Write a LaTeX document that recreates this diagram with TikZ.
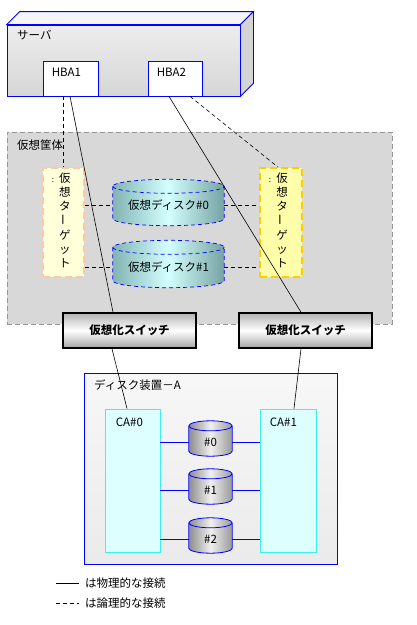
\documentclass[tikz,border=0pt]{standalone}
\usepackage{fontspec}
\setmainfont{Noto Sans CJK JP}
\usepackage{graphicx}
\usetikzlibrary{positioning,calc}
\definecolor{boxblue}{RGB}{0,0,255}
\definecolor{encgray}{RGB}{216,216,216}
\definecolor{encedge}{RGB}{150,150,150}
\definecolor{salmonedge}{RGB}{255,200,165}
\definecolor{goldedge}{RGB}{255,204,0}
\definecolor{paleyel}{RGB}{255,255,218}
\definecolor{yelfill}{RGB}{255,255,170}
\definecolor{tealdark}{RGB}{130,180,180}
\definecolor{teallight}{RGB}{212,255,255}
\definecolor{cafill}{RGB}{222,255,255}
\definecolor{caedge}{RGB}{60,240,240}
% cylinder drawn on the frame of a named node: node, end radius, style
\newcommand{\drum}[3]{%
  \path[#3] let \p1=(#1.north west), \p2=(#1.south east), \n1={(\x2-\x1)/2} in
    (\x1,\y1-#2) -- (\x1,\y2+#2) arc[start angle=180,end angle=360,x radius=\n1,y radius=#2]
    -- (\x2,\y1-#2) arc[start angle=0,end angle=180,x radius=\n1,y radius=#2] -- cycle
    (\x1,\y1-#2) arc[start angle=180,end angle=360,x radius=\n1,y radius=#2];
}

\begin{document}
\begin{tikzpicture}[x=1pt,y=-1pt,
  font=\fontsize{11.5}{14}\selectfont,
  lbl/.style={anchor=west, inner sep=0pt},
  phys/.style={draw=black, line width=0.6pt},
  logical/.style={phys, dash pattern=on 4pt off 3pt},
  cable/.style={draw=boxblue, line width=0.8pt},
  hba/.style={draw=boxblue, fill=white, line width=0.8pt, minimum width=55pt, minimum height=35pt, inner sep=0pt},
  target/.style={line width=1.8pt, dash pattern=on 7pt off 4pt, minimum width=41pt, minimum height=109pt, inner sep=0pt},
  frame/.style={minimum width=#1, inner sep=0pt},
  vdisk/.style={draw=boxblue, line width=0.7pt, dash pattern=on 4pt off 3pt,
    left color=tealdark, right color=tealdark!90!black, middle color=teallight},
  sdisk/.style={draw=boxblue, line width=0.8pt, left color=black!45, right color=black!40, middle color=white!94!black},
  switchbox/.style={draw=black, line width=1.6pt, top color=black!30, bottom color=black!35, middle color=white,
    minimum width=133pt, minimum height=35pt, inner sep=0pt, font=\fontsize{11.5}{14}\selectfont\bfseries},
  cabox/.style={draw=caedge, fill=cafill, line width=0.8pt, minimum width=55pt, minimum height=143pt, inner sep=0pt}]
  \useasboundingbox (0,0) rectangle (417,625);
  % virtual enclosure
  \node[draw=encedge, fill=encgray, dash pattern=on 5pt off 3pt, line width=0.8pt,
    minimum width=385pt, minimum height=192pt] (enc) at (199.5,228) {};
  \node[lbl] (enclbl) at (17,145) {仮想筐体};
  % server
  \node[draw=boxblue, line width=0.8pt, shading angle=45, top color=white!93!black, bottom color=black!16,
    minimum width=233pt, minimum height=71pt] (server) at (123.5,60.5) {};
  \draw[boxblue, line width=0.8pt, fill=white!96!black] (server.north west) -- ++(13,-13) -- ($(server.north east)+(13,-13)$) -- (server.north east) -- cycle;
  \draw[boxblue, line width=0.8pt, fill=black!17] (server.north east) -- ++(13,-13) -- ($(server.south east)+(13,-13)$) -- (server.south east) -- cycle;
  \node[lbl] (srvlbl) at (17,35) {サーバ};
  \node[hba] (hba1) at (70.5,78.5) {};
  \node[hba, minimum width=54pt] (hba2) at (175,78.5) {};
  \node[lbl] at ([xshift=9pt,yshift=-12pt]hba1.north west) {HBA1};
  \node[lbl] at ([xshift=9pt,yshift=-12pt]hba2.north west) {HBA2};
  % virtual targets and disks
  \node[target, draw=salmonedge, fill=paleyel] (tgtL) at (63.5,222.5) {};
  \node[target, draw=goldedge, fill=yelfill, minimum width=42pt] (tgtR) at (281,222.5) {};
  \node[align=center, font=\fontsize{11.5}{14.2}\selectfont] (tgtLtxt) at (65,220.5) {仮\\想\\タ\\\rotatebox{90}{ー}\\ゲ\\ッ\\ト};
  \node[align=center, font=\fontsize{11.5}{14.2}\selectfont] (tgtRtxt) at (282,220.5) {仮\\想\\タ\\\rotatebox{90}{ー}\\ゲ\\ッ\\ト};
  \node[font=\fontsize{8}{8}\selectfont] at (53,180) {:};
  \node[font=\fontsize{8}{8}\selectfont] at (270,180) {:};
  \node[frame=111pt, minimum height=46pt] (vd0) at (168.5,202.5) {};
  \node[frame=111pt, minimum height=47pt] (vd1) at (168.5,264) {};
  \drum{vd0}{7pt}{vdisk}
  \drum{vd1}{7pt}{vdisk}
  \node (vd0txt) at ([yshift=-3pt]vd0.center) {仮想ディスク\#0};
  \node (vd1txt) at ([yshift=-3pt]vd1.center) {仮想ディスク\#1};
  \draw[logical] (tgtL.east |- vd0txt) -- (vd0.west |- vd0txt);
  \draw[logical] (vd0.east |- vd0txt) -- (tgtR.west |- vd0txt);
  \draw[logical] (tgtL.east |- vd1txt) -- (vd1.west |- vd1txt);
  \draw[logical] (vd1.east |- vd1txt) -- (tgtR.west |- vd1txt);
  % switches
  \node[switchbox] (sw1) at (129.5,330.5) {仮想化スイッチ};
  \node[switchbox] (sw2) at (305.5,330.5) {仮想化スイッチ};
  % disk unit
  \node[draw=boxblue, line width=0.8pt, shading angle=45, top color=white!97!black, bottom color=black!8,
    minimum width=253pt, minimum height=191pt] (dev) at (210.5,468.5) {};
  \node[lbl] (devlbl) at (94,385) {ディスク装置－A};
  \node[cabox] (ca0) at (132.5,480.5) {};
  \node[cabox, minimum width=56pt] (ca1) at (288,480.5) {};
  \node[lbl] at ([xshift=11pt,yshift=-14pt]ca0.north west) {CA\#0};
  \node[lbl] at ([xshift=10pt,yshift=-14pt]ca1.north west) {CA\#1};
  \foreach \i/\y in {0/438.5,1/486.5,2/535.5} {
    \node[frame=43pt, minimum height=35pt] (sd\i) at (210.5,\y) {};
    \drum{sd\i}{5pt}{sdisk}
    \node (sd\i txt) at ([yshift=-4pt]sd\i.center) {\#\i};
    \draw[cable] (ca0.east |- sd\i txt) -- (sd\i.west |- sd\i txt);
    \draw[cable] (sd\i.east |- sd\i txt) -- (ca1.west |- sd\i txt);
  }
  % connections
  \draw[phys] ([xshift=-0.5pt]hba1.south) -- ([xshift=-16.5pt]sw1.north);
  \draw[phys] ([xshift=-17.5pt]sw1.south) -- ([xshift=-5.5pt]ca0.north);
  \draw[phys] ([xshift=-6pt]hba2.south) -- ([xshift=-4.5pt]sw2.north);
  \draw[phys] ([xshift=-4.5pt]sw2.south) -- ([xshift=6pt]ca1.north);
  \draw[logical] (hba1.south -| tgtL.north) -- (tgtL.north);
  \draw[logical] ([xshift=15pt]hba2.south) -- ([xshift=-3pt]tgtR.north);
  % legend
  \coordinate (physA) at (56,583);
  \coordinate (physB) at (79,583);
  \coordinate (logA) at (56,603);
  \coordinate (logB) at (79,603);
  \draw[phys] (physA) -- (physB);
  \draw[logical] (logA) -- (logB);
  \node[lbl] (physlbl) at (85,583) {は物理的な接続};
  \node[lbl] (loglbl) at (85,603) {は論理的な接続};
\end{tikzpicture}
\end{document}
